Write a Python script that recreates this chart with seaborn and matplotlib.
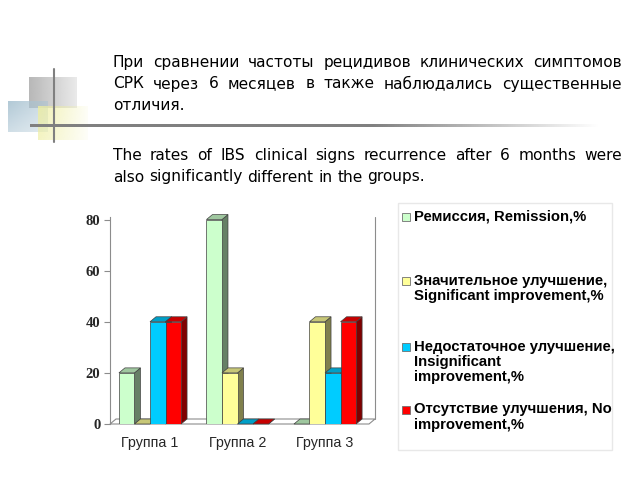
import matplotlib
matplotlib.use("Agg")
import numpy as np
import pandas as pd
import matplotlib.pyplot as plt
import matplotlib.colors as mcolors
from matplotlib.patches import Polygon, Rectangle
import seaborn as sns

# data
groups = ["Группа 1", "Группа 2", "Группа 3"]
series_names = ["Remission", "Significant", "Insignificant", "No improvement"]
remission = [20, 80, 0]
significant = [0, 20, 40]
insignificant = [40, 0, 20]
no_improvement = [40, 0, 40]
y_ticks = [0, 20, 40, 60, 80]
colors = ["#CCFFCC", "#FFFF99", "#00CCFF", "#FF0000"]
legend_labels = [
    "Ремиссия, Remission,%",
    "Значительное улучшение,\nSignificant improvement,%",
    "Недостаточное улучшение,\nInsignificant\nimprovement,%",
    "Отсутствие улучшения, No\nimprovement,%",
]
ru_lines = [
    "При сравнении частоты рецидивов клинических симптомов",
    "СРК через 6 месяцев в также наблюдались существенные",
    "отличия.",
]
en_lines = [
    "The rates of IBS clinical signs recurrence after 6 months were",
    "also significantly different in the groups.",
]

sns.set_theme(style="white")
plt.rcParams["font.family"] = ["DejaVu Sans"]

fig = plt.figure(figsize=(6.4, 4.8), dpi=100)
fig.patch.set_facecolor("white")

# background layer in pixel coordinates
bg = fig.add_axes([0, 0, 1, 1])
bg.axis("off")


def grad_box(x0, y0, x1, y1, color, a_left, a_right, a_top=1.0, a_bottom=1.0):
    rgb = mcolors.to_rgb(color)
    ax_ = np.linspace(a_left, a_right, 40)[None, :]
    ay_ = np.linspace(a_top, a_bottom, 40)[:, None]
    img = np.zeros((40, 40, 4))
    img[..., :3] = rgb
    img[..., 3] = ax_ * ay_
    bg.imshow(img, extent=(x0, x1, y1, y0), aspect="auto",
              interpolation="bilinear", zorder=1)


grad_box(29, 77, 77, 108, "#b8b8b8", 1.0, 0.3, 1.0, 1.0)
grad_box(8, 101, 48, 132, "#a9c3d2", 1.0, 0.6, 0.9, 0.55)
grad_box(38, 106, 88, 140, "#eeeea0", 0.9, 0.1, 0.9, 0.7)
bg.plot([54, 54], [69, 142], color="#808080", lw=1.5, zorder=2)
line_img = np.zeros((1, 200, 4))
line_img[..., :3] = mcolors.to_rgb("#808080")
line_img[..., 3] = np.concatenate([np.ones(120), np.linspace(1, 0, 80)])
bg.imshow(line_img, extent=(30, 600, 127, 124.5), aspect="auto",
          interpolation="bilinear", zorder=2)

# legend box
bg.add_patch(Rectangle((398, 203), 214, 247, fc="white", ec="#e8e8e8", lw=1, zorder=1))
marker_tops = [213, 277, 343, 406]
for lab, col, yt in zip(legend_labels, colors, marker_tops):
    bg.add_patch(Rectangle((402, yt), 8, 8, fc=col, ec="#707070", lw=0.6, zorder=3))
    bg.text(414, yt - 3.5, lab, ha="left", va="top", fontsize=10.7, fontweight="bold",
            family=["Liberation Sans"], color="black", linespacing=1.12, zorder=3)

bg.set_xlim(0, 640)
bg.set_ylim(480, 0)

# justified paragraphs
renderer = fig.canvas.get_renderer()
text_left, text_right = 113, 622
text_kw = dict(fontsize=11.1, family=["DejaVu Sans"], color="black",
               va="baseline", ha="left")


def paragraph(lines, baselines):
    probe1 = bg.text(0, 0, "a a", **text_kw)
    probe2 = bg.text(0, 0, "aa", **text_kw)
    space = probe1.get_window_extent(renderer).width - probe2.get_window_extent(renderer).width
    probe1.remove()
    probe2.remove()
    for k, (line, yb) in enumerate(zip(lines, baselines)):
        words = line.split(" ")
        objs = [bg.text(0, yb, w, **text_kw) for w in words]
        widths = [o.get_window_extent(renderer).width for o in objs]
        if k == len(lines) - 1 or len(words) == 1:
            gap = space
        else:
            gap = (text_right - text_left - sum(widths)) / (len(words) - 1)
        x = text_left
        for o, w in zip(objs, widths):
            o.set_x(x)
            x += w + gap


paragraph(ru_lines, [67, 88.5, 110])
paragraph(en_lines, [160, 181.5])

# chart
ax = fig.add_axes([110 / 640, 56 / 480, 265 / 640, 207 / 480])
ax.set_facecolor("none")
df = pd.DataFrame({
    "group": groups * 4,
    "series": np.repeat(series_names, len(groups)),
    "value": remission + significant + insignificant + no_improvement,
})
sns.barplot(data=df, x="group", y="value", hue="series", palette=colors,
            saturation=1, width=0.71, edgecolor="#404040", linewidth=0.5,
            legend=False, ax=ax)

x_lo, x_hi = -0.457, 2.571
y_hi = 81
ax.set_xlim(x_lo, x_hi)
ax.set_ylim(0, y_hi)

# fake 3D depth
dx = 6 / 87.5
dy = 5 * y_hi / 207
bars = sorted(ax.patches, key=lambda p: p.get_x())
for i, p in enumerate(bars):
    x0 = p.get_x()
    x1 = x0 + p.get_width()
    h = p.get_height()
    c = np.array(mcolors.to_rgb(p.get_facecolor()))
    z = 3 + i * 0.1
    p.set_zorder(z)
    ax.add_patch(Polygon([(x1, 0), (x1 + dx, dy), (x1 + dx, h + dy), (x1, h)],
                         closed=True, fc=c * 0.5, ec="#404040", lw=0.5,
                         zorder=z - 0.05, clip_on=False))
    ax.add_patch(Polygon([(x0, h), (x0 + dx, h + dy), (x1 + dx, h + dy), (x1, h)],
                         closed=True, fc=c * 0.78, ec="#404040", lw=0.5,
                         zorder=z - 0.04, clip_on=False))

# floor and back wall
wall = "#8c8c8c"
ax.add_patch(Polygon([(x_lo, 0), (x_hi - dx, 0), (x_hi, dy), (x_lo + dx, dy)],
                     closed=True, fc="white", ec=wall, lw=0.8, zorder=2, clip_on=False))
ax.plot([x_hi, x_hi], [dy, y_hi], color=wall, lw=0.8, zorder=2, clip_on=False)

for s in ["top", "right", "bottom"]:
    ax.spines[s].set_visible(False)
ax.spines["left"].set_color(wall)
ax.spines["left"].set_linewidth(0.8)

ax.set_yticks(y_ticks)
ax.set_yticklabels([str(v) for v in y_ticks], fontsize=10.5, fontweight="bold",
                   family=["Liberation Serif"])
ax.tick_params(axis="y", length=4, width=0.8, color=wall, pad=3, left=True)
ax.tick_params(axis="x", length=0, pad=9)
for lab in ax.get_xticklabels():
    lab.set_fontsize(10.3)
    lab.set_family(["Liberation Sans"])
ax.set_xlabel("")
ax.set_ylabel("")

fig.savefig("out.png", dpi=100)
